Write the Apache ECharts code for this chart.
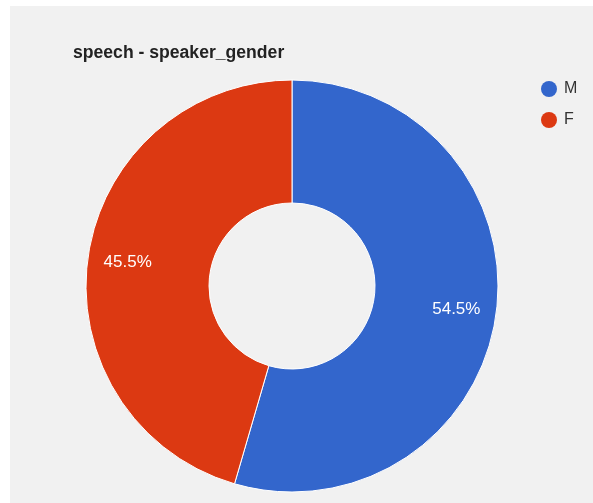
<!DOCTYPE html>
<html>
<head>
<meta charset="utf-8">
<script src="https://cdn.jsdelivr.net/npm/echarts@6/dist/echarts.min.js"></script>
<style>
  html, body { margin: 0; padding: 0; background: #fff; }
  #chart { position: absolute; left: 10px; top: 6px; width: 583px; height: 497px; background: #f1f1f1; }
</style>
</head>
<body>
<div id="chart"></div>
<script>
// 数据
const categories = ["M", "F"];
const values = [54.5, 45.5];
const colors = ["#3366cc", "#dc3912"];

const chart = echarts.init(document.getElementById("chart"));

const pieData = categories.map((name, i) => ({
  name: name,
  value: values[i],
  itemStyle: { color: colors[i] },
}));

const options = {
  animation: false,
  title: {
    text: "speech - speaker_gender",
    left: 63,
    top: 38,
    padding: 0,
    textStyle: { fontFamily: "Liberation Sans, Arial", fontSize: 17.6, fontWeight: "bold", color: "#222" },
  },
  legend: {
    orient: "vertical",
    left: 531,
    top: 75,
    icon: "circle",
    itemWidth: 16,
    itemHeight: 16,
    itemGap: 15,
    padding: 0,
    data: categories,
    itemStyle: { borderWidth: 0 },
    textStyle: { fontFamily: "Liberation Sans, Arial", fontSize: 16, color: "#333", padding: [0, 0, 0, 2] },
  },
  series: [
    {
      name: "speaker_gender",
      type: "pie",
      center: [282, 280],
      radius: [83, 206],
      startAngle: 90,
      clockwise: true,
      itemStyle: { borderColor: "#ffffff", borderWidth: 1 },
      label: { show: false },
      labelLine: { show: false },
      emphasis: { disabled: true },
      data: pieData,
    },
    {
      // 只用来放百分比标签
      name: "labels",
      type: "pie",
      center: [282, 280],
      radius: [120, 206],
      startAngle: 90,
      silent: true,
      itemStyle: { color: "transparent", borderWidth: 0 },
      label: {
        show: true,
        position: "inside",
        formatter: (p) => p.value.toFixed(1) + "%",
        color: "#ffffff",
        fontFamily: "Liberation Sans, Arial",
        fontSize: 17,
      },
      labelLine: { show: false },
      emphasis: { disabled: true },
      data: categories.map((name, i) => ({ name: name, value: values[i] })),
    },
  ],
};

chart.setOption(options);
</script>
</body>
</html>
